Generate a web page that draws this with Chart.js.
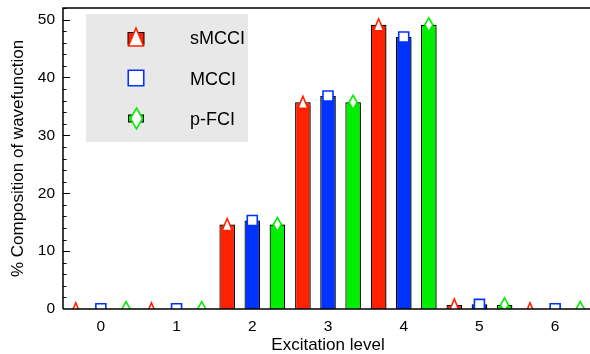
<!DOCTYPE html>
<html>
<head>
<meta charset="utf-8">
<script src="https://cdn.jsdelivr.net/npm/chart.js@4/dist/chart.umd.min.js"></script>
<style>
html,body{margin:0;padding:0;background:#fff;overflow:hidden;}
#wrap{width:593px;height:354px;position:relative;}
</style>
</head>
<body>
<div id="wrap"><canvas id="myChart"></canvas></div>
<script>
// excitation levels and % composition for each method
var levels=['0','1','2','3','4','5','6'];
var sMCCI=[0.05,0.05,14.6,35.7,49.1,0.7,0.05];
var MCCI=[0.05,0.05,15.3,36.8,47.0,0.8,0.05];
var pFCI=[0.05,0.05,14.6,35.7,49.1,0.7,0.05];
var yTicks=[0,10,20,30,40,50];
var names=['sMCCI','MCCI','p-FCI'];

var FONT='"Liberation Sans", Arial, Helvetica, sans-serif';
var cols=['#ff2200','#0033ff','#00ee00'];
var shapes=['tri','sq','dia'];

function drawMarker(c,shape,x,y,col,s){
    c.save();
    c.lineWidth=1.6;
    c.strokeStyle=col;
    c.fillStyle='#fff';
    c.beginPath();
    if(shape=='tri'){
        c.moveTo(x,y-6*s);c.lineTo(x+5*s,y+6*s);c.lineTo(x-5*s,y+6*s);c.closePath();
    }else if(shape=='sq'){
        c.rect(x-5*s,y-5*s,10*s,10*s);
    }else{
        c.moveTo(x,y-7*s);c.lineTo(x+4*s,y);c.lineTo(x,y+7*s);c.lineTo(x-4*s,y);c.closePath();
    }
    c.fill();c.stroke();
    c.restore();
}

var shadowPlugin={
    id:'shadow',
    beforeDatasetDraw:function(chart){
        var c=chart.ctx;c.save();
        c.shadowColor='rgba(0,0,0,0.3)';c.shadowOffsetX=1.5;c.shadowBlur=1;
    },
    afterDatasetDraw:function(chart){chart.ctx.restore();}
};

var markerPlugin={
    id:'markers',
    afterDatasetsDraw:function(chart){
        var c=chart.ctx,a=chart.chartArea;
        c.save();
        c.beginPath();c.rect(a.left,a.top,a.right-a.left,a.bottom-a.top);c.clip();
        chart.data.datasets.forEach(function(ds,i){
            var meta=chart.getDatasetMeta(i);
            meta.data.forEach(function(el){
                drawMarker(c,shapes[i],el.x,el.y,cols[i],1);
            });
        });
        c.restore();
    }
};

var framePlugin={
    id:'frame',
    afterDraw:function(chart){
        var c=chart.ctx,a=chart.chartArea,y=chart.scales.y;
        c.save();
        c.strokeStyle='#000';c.lineWidth=1.5;
        c.beginPath();
        c.moveTo(a.left,a.bottom);c.lineTo(a.left,a.top);c.lineTo(a.right+2,a.top);
        c.moveTo(a.left,a.bottom);c.lineTo(a.right+2,a.bottom);
        c.stroke();
        c.lineWidth=1;
        for(var v=2;v<=52;v+=2){
            var py=Math.round(y.getPixelForValue(v))+0.5;
            var len=(v%10==0)?7:3.5;
            c.beginPath();c.moveTo(a.left,py);c.lineTo(a.left+len,py);c.stroke();
        }
        c.restore();
    }
};

var legendPlugin={
    id:'boxLegend',
    beforeDatasetsDraw:function(chart){
        var c=chart.ctx;
        c.save();
        c.fillStyle='#e8e8e8';
        c.fillRect(86,14,162,128);
        var rows=[37,78,118.5];
        for(var i=0;i<3;i++){
            var y=rows[i];
            if(i==0){
                c.fillStyle=cols[0];c.strokeStyle='#000';c.lineWidth=1;
                c.fillRect(128,32.5,16,12);c.strokeRect(128,32.5,16,12);
                drawMarker(c,'tri',136,y,cols[0],1.5);
            }else if(i==1){
                drawMarker(c,'sq',136,y,cols[1],1.55);
            }else{
                c.fillStyle=cols[2];c.strokeStyle='#000';c.lineWidth=1;
                c.fillRect(128.5,115,15,7);c.strokeRect(128.5,115,15,7);
                drawMarker(c,'dia',136.5,y,cols[2],1.5);
            }
            c.fillStyle='#000';c.font='18px '+FONT;c.textBaseline='middle';c.textAlign='left';
            c.fillText(names[i],190,y+2);
        }
        c.restore();
    }
};

var ctx=document.getElementById('myChart').getContext('2d');
var chart=new Chart(ctx,{
    type:'bar',
    data:{
        labels:levels,
        datasets:[
            {label:names[0],data:sMCCI,backgroundColor:cols[0],borderColor:'#000',borderWidth:1.2},
            {label:names[1],data:MCCI,backgroundColor:cols[1],borderColor:'#000',borderWidth:1.2},
            {label:names[2],data:pFCI,backgroundColor:cols[2],borderColor:'#000',borderWidth:1.2}
        ]
    },
    plugins:[shadowPlugin,legendPlugin,markerPlugin,framePlugin],
    options:{
        responsive:true,
        maintainAspectRatio:false,
        animation:false,
        layout:{padding:{top:8,right:0,left:0,bottom:0}},
        datasets:{bar:{categoryPercentage:0.995,barPercentage:0.62}},
        plugins:{legend:{display:false},tooltip:{enabled:false}},
        scales:{
            x:{
                grid:{display:false,drawTicks:false},
                border:{display:false},
                ticks:{color:'#000',font:{family:FONT,size:15.5},padding:8},
                title:{display:true,text:'Excitation level',color:'#000',font:{family:FONT,size:17},padding:{top:4,bottom:-2}},
                afterFit:function(s){s.height=45;s.paddingLeft=0;s.paddingRight=0;}
            },
            y:{
                min:0,max:52,
                grid:{display:false,drawTicks:false},
                border:{display:false},
                afterBuildTicks:function(s){s.ticks=yTicks.map(function(v){return {value:v};});},
                ticks:{color:'#000',font:{family:FONT,size:15.5},padding:8},
                title:{display:true,text:'% Composition of wavefunction',color:'#000',font:{family:FONT,size:17},padding:{top:8,bottom:0}},
                afterFit:function(s){s.width=63;s.paddingTop=0;s.paddingBottom=0;}
            }
        }
    }
});
</script>
</body>
</html>
